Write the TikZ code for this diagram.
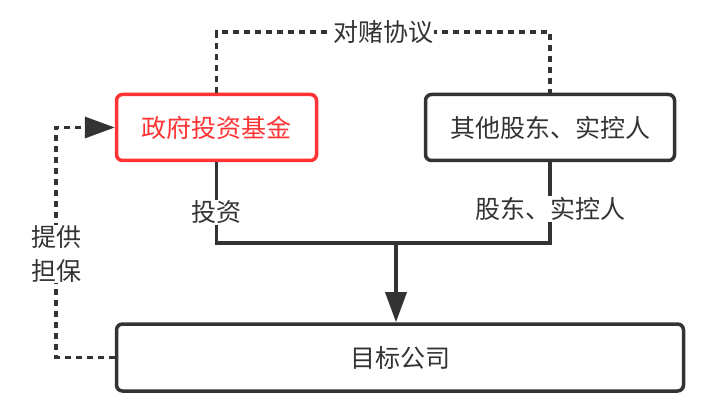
\documentclass[tikz,border=0pt]{standalone}
\usepackage{fontspec}
\setmainfont{Noto Sans CJK SC}
\usetikzlibrary{arrows.meta}
\definecolor{ink}{HTML}{333333}
\definecolor{fundred}{HTML}{FF3333}
\tikzset{
  box/.style={draw=ink, line width=3.5pt, rounded corners=6pt, minimum height=66pt,
    text=ink, font=\fontsize{25}{30}\selectfont},
  lbl/.style={fill=white, text=ink, inner sep=1pt, font=\fontsize{25}{34}\selectfont},
  dots/.style={draw=ink, line width=3.5pt, dash pattern=on 6pt off 5pt},
  link/.style={draw=ink, line width=3.5pt},
  bigtip/.style={-{Triangle[length=30pt,width=21pt]}}
}
\begin{document}
\begin{tikzpicture}[x=1pt,y=-1pt]
  \useasboundingbox (0,0) rectangle (726,414);
  % boxes
  \node[box, draw=fundred, text=fundred, minimum width=200pt] (fund) at (216.5,127.5) {政府投资基金};
  \node[box, minimum width=249pt] (other) at (550,127.5) {其他股东、实控人};
  \node[box, minimum width=567pt, minimum height=67pt] (target) at (400,357.5) {目标公司};
  % helper points
  \coordinate (top) at (0,32);
  \coordinate (join) at (396,243);
  \coordinate (side) at (56,0);
  % agreement
  \draw[dots] (fund.north) -- (fund.north |- top)
    -- node[lbl] {对赌协议} (other.north |- top) -- (other.north);
  % investment
  \draw[link] (fund.south) -- node[lbl, pos=0.62] {投资} (fund.south |- join)
    -- (other.south |- join) -- node[lbl, pos=0.42] {股东、实控人} (other.south);
  \draw[link, bigtip] (join) -- (target.north -| join);
  % guarantee
  \draw[dots, bigtip] (target.west) -- (side |- target.west)
    -- node[lbl, align=center, pos=0.45] {提供\\担保} (side |- fund.west) -- (fund.west);
\end{tikzpicture}
\end{document}
